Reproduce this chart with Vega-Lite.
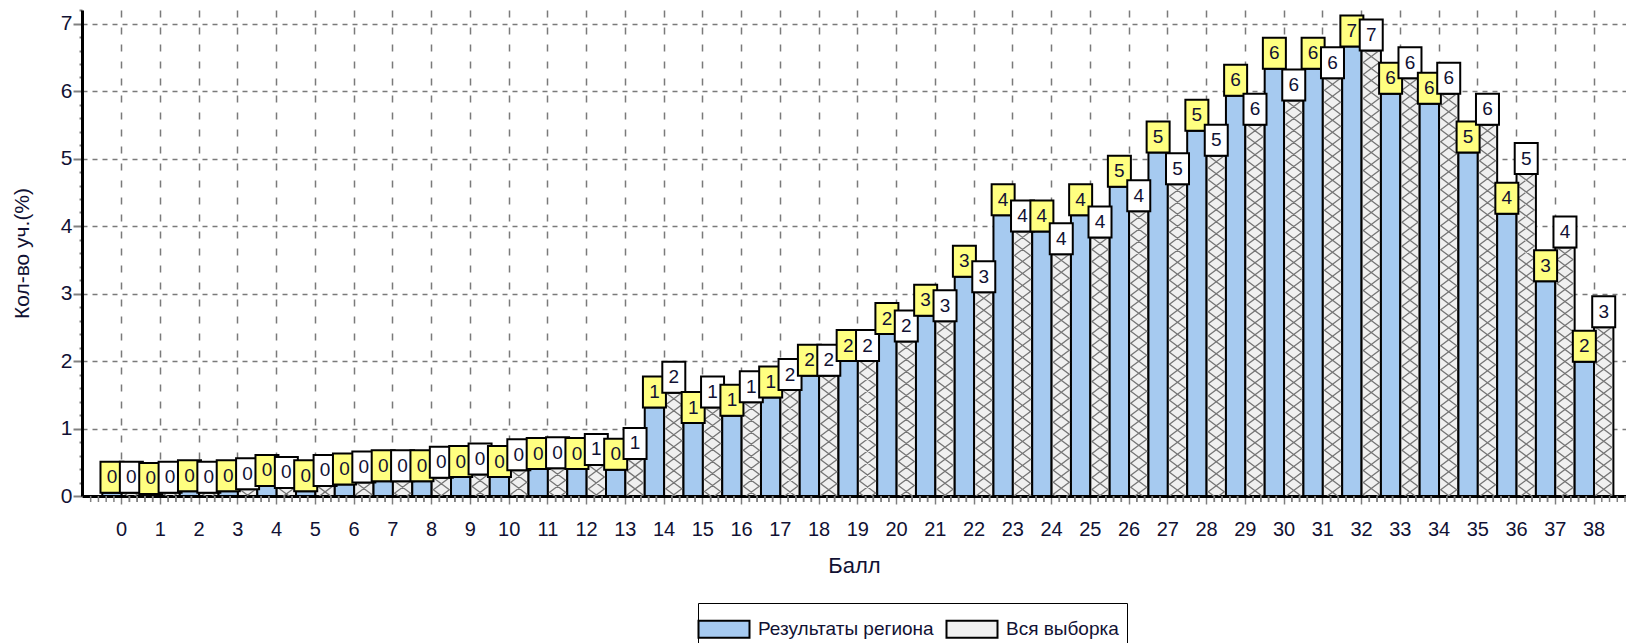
{
  "$schema": "https://vega.github.io/schema/vega-lite/v6.json",
  "autosize": {"type": "none"},
  "padding": {"left": 82, "top": 10, "right": 0, "bottom": 147},
  "width": 1544,
  "height": 486,
  "background": "white",
  "config": {
    "view": {"stroke": null},
    "font": "Liberation Sans, Arial"
  },
  "data": {
    "values": [
      {"score": 0, "series": "Результаты региона", "value": 0.05, "label": "0"},
      {"score": 0, "series": "Вся выборка", "value": 0.05, "label": "0"},
      {"score": 1, "series": "Результаты региона", "value": 0.03, "label": "0"},
      {"score": 1, "series": "Вся выборка", "value": 0.05, "label": "0"},
      {"score": 2, "series": "Результаты региона", "value": 0.07, "label": "0"},
      {"score": 2, "series": "Вся выборка", "value": 0.05, "label": "0"},
      {"score": 3, "series": "Результаты региона", "value": 0.07, "label": "0"},
      {"score": 3, "series": "Вся выборка", "value": 0.1, "label": "0"},
      {"score": 4, "series": "Результаты региона", "value": 0.15, "label": "0"},
      {"score": 4, "series": "Вся выборка", "value": 0.12, "label": "0"},
      {"score": 5, "series": "Результаты региона", "value": 0.07, "label": "0"},
      {"score": 5, "series": "Вся выборка", "value": 0.15, "label": "0"},
      {"score": 6, "series": "Результаты региона", "value": 0.17, "label": "0"},
      {"score": 6, "series": "Вся выборка", "value": 0.2, "label": "0"},
      {"score": 7, "series": "Результаты региона", "value": 0.22, "label": "0"},
      {"score": 7, "series": "Вся выборка", "value": 0.22, "label": "0"},
      {"score": 8, "series": "Результаты региона", "value": 0.22, "label": "0"},
      {"score": 8, "series": "Вся выборка", "value": 0.27, "label": "0"},
      {"score": 9, "series": "Результаты региона", "value": 0.28, "label": "0"},
      {"score": 9, "series": "Вся выборка", "value": 0.32, "label": "0"},
      {"score": 10, "series": "Результаты региона", "value": 0.28, "label": "0"},
      {"score": 10, "series": "Вся выборка", "value": 0.38, "label": "0"},
      {"score": 11, "series": "Результаты региона", "value": 0.4, "label": "0"},
      {"score": 11, "series": "Вся выборка", "value": 0.41, "label": "0"},
      {"score": 12, "series": "Результаты региона", "value": 0.4, "label": "0"},
      {"score": 12, "series": "Вся выборка", "value": 0.46, "label": "1"},
      {"score": 13, "series": "Результаты региона", "value": 0.39, "label": "0"},
      {"score": 13, "series": "Вся выборка", "value": 0.55, "label": "1"},
      {"score": 14, "series": "Результаты региона", "value": 1.31, "label": "1"},
      {"score": 14, "series": "Вся выборка", "value": 1.53, "label": "2"},
      {"score": 15, "series": "Результаты региона", "value": 1.08, "label": "1"},
      {"score": 15, "series": "Вся выборка", "value": 1.31, "label": "1"},
      {"score": 16, "series": "Результаты региона", "value": 1.19, "label": "1"},
      {"score": 16, "series": "Вся выборка", "value": 1.39, "label": "1"},
      {"score": 17, "series": "Результаты региона", "value": 1.46, "label": "1"},
      {"score": 17, "series": "Вся выборка", "value": 1.57, "label": "2"},
      {"score": 18, "series": "Результаты региона", "value": 1.78, "label": "2"},
      {"score": 18, "series": "Вся выборка", "value": 1.78, "label": "2"},
      {"score": 19, "series": "Результаты региона", "value": 2.0, "label": "2"},
      {"score": 19, "series": "Вся выборка", "value": 2.0, "label": "2"},
      {"score": 20, "series": "Результаты региона", "value": 2.4, "label": "2"},
      {"score": 20, "series": "Вся выборка", "value": 2.29, "label": "2"},
      {"score": 21, "series": "Результаты региона", "value": 2.67, "label": "3"},
      {"score": 21, "series": "Вся выборка", "value": 2.59, "label": "3"},
      {"score": 22, "series": "Результаты региона", "value": 3.25, "label": "3"},
      {"score": 22, "series": "Вся выборка", "value": 3.02, "label": "3"},
      {"score": 23, "series": "Результаты региона", "value": 4.16, "label": "4"},
      {"score": 23, "series": "Вся выборка", "value": 3.92, "label": "4"},
      {"score": 24, "series": "Результаты региона", "value": 3.92, "label": "4"},
      {"score": 24, "series": "Вся выборка", "value": 3.58, "label": "4"},
      {"score": 25, "series": "Результаты региона", "value": 4.16, "label": "4"},
      {"score": 25, "series": "Вся выборка", "value": 3.83, "label": "4"},
      {"score": 26, "series": "Результаты региона", "value": 4.58, "label": "5"},
      {"score": 26, "series": "Вся выборка", "value": 4.22, "label": "4"},
      {"score": 27, "series": "Результаты региона", "value": 5.09, "label": "5"},
      {"score": 27, "series": "Вся выборка", "value": 4.62, "label": "5"},
      {"score": 28, "series": "Результаты региона", "value": 5.41, "label": "5"},
      {"score": 28, "series": "Вся выборка", "value": 5.04, "label": "5"},
      {"score": 29, "series": "Результаты региона", "value": 5.93, "label": "6"},
      {"score": 29, "series": "Вся выборка", "value": 5.5, "label": "6"},
      {"score": 30, "series": "Результаты региона", "value": 6.33, "label": "6"},
      {"score": 30, "series": "Вся выборка", "value": 5.86, "label": "6"},
      {"score": 31, "series": "Результаты региона", "value": 6.33, "label": "6"},
      {"score": 31, "series": "Вся выборка", "value": 6.19, "label": "6"},
      {"score": 32, "series": "Результаты региона", "value": 6.66, "label": "7"},
      {"score": 32, "series": "Вся выборка", "value": 6.6, "label": "7"},
      {"score": 33, "series": "Результаты региона", "value": 5.96, "label": "6"},
      {"score": 33, "series": "Вся выборка", "value": 6.19, "label": "6"},
      {"score": 34, "series": "Результаты региона", "value": 5.81, "label": "6"},
      {"score": 34, "series": "Вся выборка", "value": 5.96, "label": "6"},
      {"score": 35, "series": "Результаты региона", "value": 5.09, "label": "5"},
      {"score": 35, "series": "Вся выборка", "value": 5.5, "label": "6"},
      {"score": 36, "series": "Результаты региона", "value": 4.18, "label": "4"},
      {"score": 36, "series": "Вся выборка", "value": 4.77, "label": "5"},
      {"score": 37, "series": "Результаты региона", "value": 3.18, "label": "3"},
      {"score": 37, "series": "Вся выборка", "value": 3.68, "label": "4"},
      {"score": 38, "series": "Результаты региона", "value": 1.99, "label": "2"},
      {"score": 38, "series": "Вся выборка", "value": 2.5, "label": "3"}
    ]
  },
  "encoding": {
    "x": {
      "field": "score",
      "type": "ordinal",
      "title": "Балл",
      "scale": {"paddingInner": 0, "paddingOuter": 0.4245, "align": 0.617},
      "axis": {
        "labelAngle": 0,
        "bandPosition": 0.5,
        "grid": true,
        "gridColor": "#7a7a7a",
        "gridDash": [7, 10],
        "gridWidth": 1.5,
        "domainColor": "black",
        "domainWidth": 3,
        "tickColor": "#808080",
        "tickSize": 8,
        "tickWidth": 1.5,
        "labelFontSize": 20,
        "labelColor": "#111133",
        "labelBaseline": "middle",
        "labelPadding": 25,
        "titleFontSize": 22,
        "titleFontWeight": "normal",
        "titleColor": "#111133",
        "titleBaseline": "middle",
        "titleY": 69
      }
    },
    "xOffset": {
      "field": "series",
      "type": "nominal",
      "scale": {"domain": ["Результаты региона", "Вся выборка"], "paddingInner": 0, "paddingOuter": 0}
    },
    "y": {
      "field": "value",
      "type": "quantitative",
      "title": "Кол-во уч.(%)",
      "scale": {"domain": [0, 7.2], "nice": false, "zero": true},
      "axis": {
        "values": [0, 0.2, 0.4, 0.6, 0.8, 1, 1.2, 1.4, 1.6, 1.8, 2, 2.2, 2.4, 2.6, 2.8, 3, 3.2, 3.4, 3.6, 3.8, 4, 4.2, 4.4, 4.6, 4.8, 5, 5.2, 5.4, 5.6, 5.8, 6, 6.2, 6.4, 6.6, 6.8, 7, 7.2],
        "labelExpr": "abs(datum.value - round(datum.value)) < 0.01 ? format(round(datum.value), 'd') : ''",
        "labelOverlap": false,
        "grid": true,
        "gridColor": "#7a7a7a",
        "gridDash": [5, 5],
        "gridWidth": 1.5,
        "gridOpacity": {"condition": {"test": "abs(datum.value - round(datum.value)) < 0.01 && datum.value > 0.5", "value": 1}, "value": 0},
        "tickSize": {"condition": {"test": "abs(datum.value - round(datum.value)) < 0.01", "value": 9}, "value": 3},
        "tickColor": "#808080",
        "tickWidth": 2,
        "domainColor": "black",
        "domainWidth": 3,
        "labelFontSize": 21,
        "labelColor": "#111133",
        "labelPadding": 1,
        "titleFontSize": 21,
        "titleFontWeight": "normal",
        "titleColor": "#111133",
        "titleAngle": -90,
        "titleAlign": "center",
        "titleBaseline": "middle",
        "titleX": -60,
        "titleY": 243
      }
    }
  },
  "layer": [
    {
      "mark": {"type": "bar", "stroke": "black", "strokeWidth": 2},
      "encoding": {
        "fill": {
          "field": "series",
          "type": "nominal",
          "scale": {"domain": ["Результаты региона", "Вся выборка"], "range": ["#a6caf0", "#f0f0f0"]},
          "legend": {
            "title": null,
            "orient": "none",
            "legendX": 616,
            "legendY": 593,
            "direction": "horizontal",
            "symbolType": "M-1.5,-0.5H1.5V0.5H-1.5Z",
            "symbolSize": 1156,
            "symbolStrokeColor": "black",
            "symbolStrokeWidth": 2,
            "symbolOpacity": 1,
            "labelFontSize": 19,
            "labelColor": "#111133",
            "labelOffset": 16,
            "columnPadding": 8,
            "labelLimit": 400,
            "padding": 8,
            "strokeColor": "black",
            "fillColor": "white",
            "labelExpr": "datum.label == 'Вся выборка' ? datum.label + '\u00a0\u00a0\u00a0\u00a0\u00a0\u00a0\u00a0\u00a0\u00a0\u00a0' : datum.label"
          }
        }
      }
    },
    {
      "transform": [{"filter": "datum.series == 'Вся выборка'"}],
      "mark": {
        "type": "point",
        "clip": true,
        "filled": false,
        "size": 4,
        "stroke": "#767676",
        "strokeWidth": 1.3,
        "opacity": 1,
        "shape": "M-8,0l16,12l-16,12l16,12l-16,12l16,12l-16,12l16,12l-16,12l16,12l-16,12l16,12l-16,12l16,12l-16,12l16,12l-16,12l16,12l-16,12l16,12l-16,12l16,12l-16,12l16,12l-16,12l16,12l-16,12l16,12l-16,12l16,12l-16,12l16,12l-16,12l16,12l-16,12l16,12l-16,12l16,12l-16,12l16,12l-16,12M8,0l-16,12l16,12l-16,12l16,12l-16,12l16,12l-16,12l16,12l-16,12l16,12l-16,12l16,12l-16,12l16,12l-16,12l16,12l-16,12l16,12l-16,12l16,12l-16,12l16,12l-16,12l16,12l-16,12l16,12l-16,12l16,12l-16,12l16,12l-16,12l16,12l-16,12l16,12l-16,12l16,12l-16,12l16,12l-16,12l16,12"
      },
      "encoding": {}
    },
    {
      "transform": [{"filter": "datum.series == 'Результаты региона'"}],
      "mark": {
        "type": "point",
        "clip": false,
        "filled": false,
        "size": 4,
        "stroke": "#808080",
        "strokeWidth": 1.5,
        "opacity": 1,
        "shape": "M-21.31,0v6M-13.56,0v6M-5.81,0v6M1.94,0v6M17.44,0v6M25.19,0v6M32.94,0v6M40.69,0v6"
      },
      "encoding": {"y": {"datum": 0}}
    },
    {
      "mark": {"type": "bar", "width": 23, "y2Offset": -31, "stroke": "black", "strokeWidth": 2},
      "encoding": {
        "y2": {"field": "value"},
        "fill": {
          "field": "series",
          "type": "nominal",
          "scale": {"domain": ["Результаты региона", "Вся выборка"], "range": ["#ffff80", "#ffffff"]},
          "legend": null
        }
      }
    },
    {
      "mark": {"type": "text", "dy": -15.5, "baseline": "middle", "align": "center", "fontSize": 19, "color": "#111133"},
      "encoding": {
        "text": {"field": "label"}
      }
    }
  ],
  "resolve": {"scale": {"fill": "independent"}}
}
